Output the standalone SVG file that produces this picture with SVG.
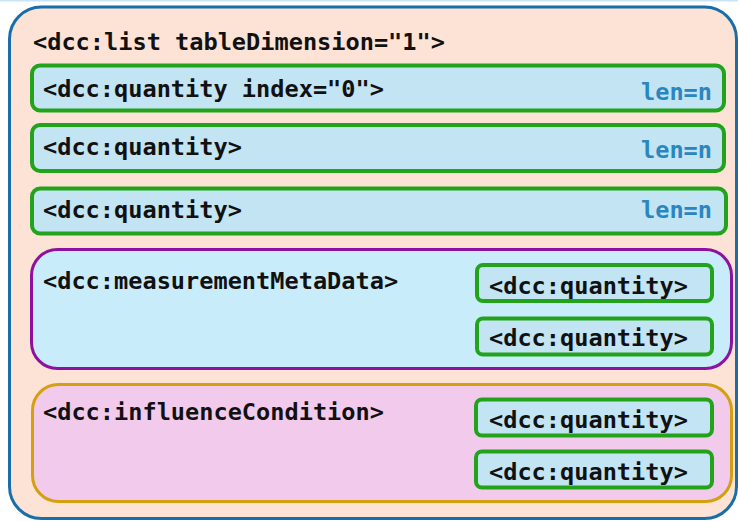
<svg xmlns="http://www.w3.org/2000/svg" width="738" height="521" viewBox="0 0 738 521">
<style>
text{font-family:"DejaVu Sans Mono","Liberation Mono",monospace;font-weight:bold;font-size:23.6px;fill:#111}
.len{fill:#2a86c0;text-anchor:end}
.q{fill:#c2e4f3;stroke:#22a31b;stroke-width:4}
</style>
<rect x="0" y="0" width="738" height="521" fill="#ffffff"/>
<rect x="0" y="0" width="738" height="1.5" fill="#c9e4f5"/>
<g id="list">
<rect x="9.5" y="7" width="727" height="511.5" rx="32" fill="#fce3d6" stroke="#1a6ea8" stroke-width="3"/>
<text x="33" y="49.5">&lt;dcc:list tableDimension="1"&gt;</text>
</g>
<g id="quantity0">
<rect class="q" x="32" y="65.5" width="692" height="45" rx="8"/>
<text x="43" y="96.5">&lt;dcc:quantity index="0"&gt;</text>
<text class="len" x="712" y="99.5">len=n</text>
</g>
<g id="quantity1">
<rect class="q" x="32" y="125" width="692" height="46" rx="8"/>
<text x="43" y="154.5">&lt;dcc:quantity&gt;</text>
<text class="len" x="712" y="157.5">len=n</text>
</g>
<g id="quantity2">
<rect class="q" x="32" y="188.5" width="694" height="45" rx="8"/>
<text x="43" y="217.5">&lt;dcc:quantity&gt;</text>
<text class="len" x="712" y="217.5">len=n</text>
</g>
<g id="measurementMetaData">
<rect x="31.5" y="249.5" width="700" height="119" rx="26" fill="#c9ecfa" stroke="#8e12a0" stroke-width="3"/>
<text x="43" y="288.5">&lt;dcc:measurementMetaData&gt;</text>
</g>
<g id="mmd-quantity1">
<rect class="q" x="477" y="265" width="235" height="36" rx="6"/>
<text x="489" y="293.5">&lt;dcc:quantity&gt;</text>
</g>
<g id="mmd-quantity2">
<rect class="q" x="477" y="318.5" width="235" height="36" rx="6"/>
<text x="489" y="345.5">&lt;dcc:quantity&gt;</text>
</g>
<g id="influenceCondition">
<rect x="32.5" y="384.5" width="699" height="117" rx="26" fill="#f2cbec" stroke="#d4a010" stroke-width="3"/>
<text x="43" y="420">&lt;dcc:influenceCondition&gt;</text>
</g>
<g id="ic-quantity1">
<rect class="q" x="476" y="399.5" width="236" height="36" rx="6"/>
<text x="489" y="427.5">&lt;dcc:quantity&gt;</text>
</g>
<g id="ic-quantity2">
<rect class="q" x="476" y="451.5" width="236" height="36" rx="6"/>
<text x="489" y="479.5">&lt;dcc:quantity&gt;</text>
</g>
<g id="connectors"/>
</svg>
